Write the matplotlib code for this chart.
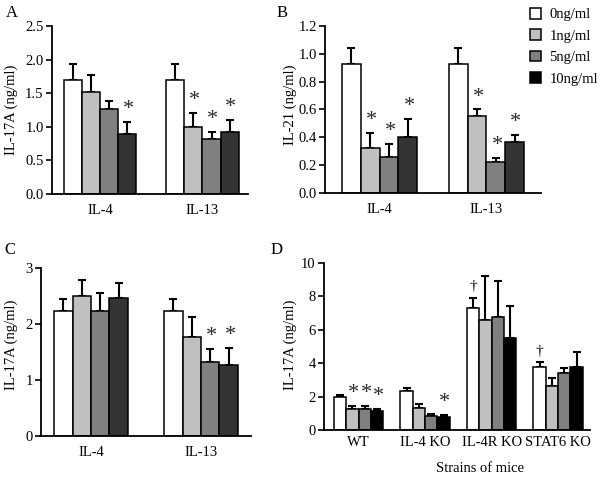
import matplotlib
matplotlib.use('Agg')
import matplotlib.pyplot as plt
from matplotlib.patches import Patch
import numpy as np

plt.rcParams['font.family'] = ['Liberation Serif', 'DejaVu Serif']

W, H = 604, 479

# ---- data ----
doses = ['0ng/ml', '1ng/ml', '5ng/ml', '10ng/ml']
cytokines = ['IL-4', 'IL-13']
strains = ['WT', 'IL-4 KO', 'IL-4R KO', 'STAT6 KO']

a_vals = [[1.70, 1.52, 1.27, 0.90], [1.70, 1.00, 0.82, 0.92]]
a_err = [[0.24, 0.25, 0.12, 0.17], [0.24, 0.20, 0.11, 0.18]]
a_star = [[0, 0, 0, 1], [0, 1, 1, 1]]

b_vals = [[0.93, 0.32, 0.26, 0.40], [0.93, 0.55, 0.22, 0.37]]
b_err = [[0.11, 0.11, 0.09, 0.13], [0.11, 0.05, 0.035, 0.05]]
b_star = [[0, 1, 1, 1], [0, 1, 1, 1]]

c_vals = [[2.23, 2.50, 2.23, 2.47], [2.23, 1.77, 1.32, 1.26]]
c_err = [[0.22, 0.28, 0.32, 0.26], [0.22, 0.36, 0.23, 0.32]]
c_star = [[0, 0, 0, 0], [0, 0, 1, 1]]

d_vals = [[1.95, 1.25, 1.27, 1.15], [2.35, 1.32, 0.82, 0.78],
          [7.30, 6.60, 6.75, 5.50], [3.80, 2.65, 3.40, 3.75]]
d_err = [[0.15, 0.20, 0.18, 0.10], [0.15, 0.26, 0.16, 0.10],
         [0.60, 2.60, 2.15, 1.90], [0.25, 0.45, 0.30, 0.90]]
d_mark = [['', '*', '*', '*'], ['', '', '', '*'],
          ['†', '', '', ''], ['†', '', '', '']]

colors_abc = ['white', '#c0c0c0', '#808080', '#333333']
colors_d = ['white', '#c0c0c0', '#808080', '#000000']


def px_axes(x0, x1, ytop, ybot):
    return fig.add_axes([x0 / W, 1 - ybot / H, (x1 - x0) / W, (ybot - ytop) / H])


def panel(ax, vals, errs, marks, colors, width, xlim, ylim, yticks, ylabels,
          xlabels, mark_off=9, tick_pad=7):
    n = len(vals)
    for i in range(4):
        x = np.arange(n) + (i - 1.5) * width
        v = [vals[g][i] for g in range(n)]
        e = [errs[g][i] for g in range(n)]
        ax.bar(x, v, width, color=colors[i], edgecolor='black', linewidth=1.1, zorder=2)
        ax.errorbar(x, v, yerr=[np.zeros(n), e], fmt='none', ecolor='black',
                    elinewidth=1.5, capsize=3, capthick=1.5, zorder=1)
        for g in range(n):
            m = marks[g][i]
            if m in (1, '*'):
                ax.annotate('*', (x[g], v[g] + e[g]), xytext=(1, mark_off),
                            textcoords='offset points', ha='center', va='center',
                            fontsize=16, color='#2a2a2a')
            elif m == '†':
                ax.annotate('†', (x[g], v[g] + e[g]), xytext=(0, 8),
                            textcoords='offset points', ha='center', va='center',
                            fontsize=11)
    ax.set_xlim(*xlim)
    ax.set_ylim(*ylim)
    ax.set_yticks(yticks)
    ax.set_yticklabels(ylabels, fontsize=10.5)
    ax.set_xticks(np.arange(n))
    ax.set_xticklabels(xlabels, fontsize=10.5)
    ax.tick_params(axis='x', length=0, pad=tick_pad)
    ax.tick_params(axis='y', length=4, width=1.2, direction='out', pad=2)
    for s in ['top', 'right']:
        ax.spines[s].set_visible(False)
    for s in ['left', 'bottom']:
        ax.spines[s].set_linewidth(1.3)


fig = plt.figure(figsize=(W / 100, H / 100), dpi=100)

# A
axA = px_axes(52, 248, 26, 194)
panel(axA, a_vals, a_err, a_star, colors_abc, 0.176, (-0.468, 1.444), (0, 2.5),
      [0, 0.5, 1, 1.5, 2, 2.5], ['0.0', '0.5', '1.0', '1.5', '2.0', '2.5'], cytokines)
fig.text(11 / W, 1 - 110 / H, 'IL-17A (ng/ml)', rotation=90, ha='center', va='center', fontsize=10.5)
fig.text(12 / W, 1 - 13 / H, 'A', ha='center', va='center', fontsize=12)

# B
axB = px_axes(325, 541, 26, 193)
panel(axB, b_vals, b_err, b_star, colors_abc, 0.175, (-0.51, 1.51), (0, 1.2),
      [0, 0.2, 0.4, 0.6, 0.8, 1.0, 1.2], ['0.0', '0.2', '0.4', '0.6', '0.8', '1.0', '1.2'],
      cytokines)
fig.text(290 / W, 1 - 105 / H, 'IL-21 (ng/ml)', rotation=90, ha='center', va='center', fontsize=10.5)
fig.text(282 / W, 1 - 13 / H, 'B', ha='center', va='center', fontsize=12)

# C
axC = px_axes(41, 251, 268, 436)
panel(axC, c_vals, c_err, c_star, colors_abc, 0.168, (-0.455, 1.455), (0, 3),
      [0, 1, 2, 3], ['0', '1', '2', '3'], cytokines)
fig.text(11 / W, 1 - 345 / H, 'IL-17A (ng/ml)', rotation=90, ha='center', va='center', fontsize=10.5)
fig.text(10 / W, 1 - 250 / H, 'C', ha='center', va='center', fontsize=12)

# D
axD = px_axes(324, 590, 263, 430)
panel(axD, d_vals, d_err, d_mark, colors_d, 0.185, (-0.52, 3.48), (0, 10),
      [0, 2, 4, 6, 8, 10], ['0', '2', '4', '6', '8', '10'], strains, tick_pad=4)
fig.text(290 / W, 1 - 345 / H, 'IL-17A (ng/ml)', rotation=90, ha='center', va='center', fontsize=10.5)
fig.text(277 / W, 1 - 250 / H, 'D', ha='center', va='center', fontsize=12)
fig.text(480 / W, 1 - 468 / H, 'Strains of mice', ha='center', va='center', fontsize=10.5)

# legend
handles = [Patch(facecolor=c, edgecolor='black', linewidth=1.1) for c in colors_d]
fig.legend(handles, doses, loc='upper left', bbox_to_anchor=(524 / W, 1 - 2 / H),
           frameon=False, fontsize=10.5, handlelength=0.75, handleheight=0.75,
           handletextpad=0.6, labelspacing=0.55, borderaxespad=0)

fig.savefig('out.png', dpi=100, facecolor='white')
